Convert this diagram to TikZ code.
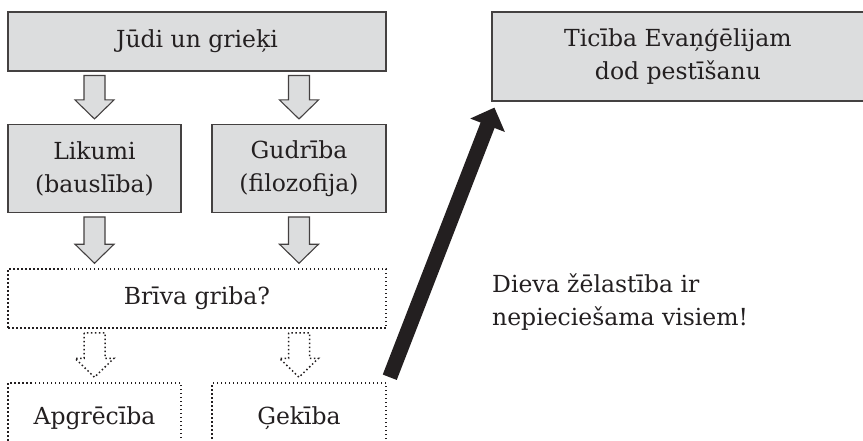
\documentclass[tikz,border=0pt]{standalone}
\usepackage{fontspec}
\setmainfont{DejaVu Serif}
\usetikzlibrary{arrows.meta,calc}

\definecolor{boxgray}{HTML}{DCDDDE}
\definecolor{ink}{HTML}{231F20}

% hollow block arrow from the box #2 down to the box #3, in the column of #4
\newcommand{\fatarrow}[4][]{%
  \draw[#1] ($(#2.south -| #4)+(-10.5,-4)$) -- ($(#3.north -| #4)+(-10.5,24)$)
    -- ($(#3.north -| #4)+(-19.5,24)$) -- ($(#3.north -| #4)+(0,5)$) -- ($(#3.north -| #4)+(19.5,24)$)
    -- ($(#3.north -| #4)+(10.5,24)$) -- ($(#2.south -| #4)+(10.5,-4)$) -- cycle;}

\begin{document}
\begin{tikzpicture}[x=1pt, y=1pt,
  every node/.style={text=ink, font=\fontsize{23.5}{33}\selectfont, align=center, inner sep=0pt},
  greybox/.style={draw=ink!85, line width=1.1pt, fill=boxgray},
  dotbox/.style={draw=ink, line width=1.5pt, dash pattern=on 1.5pt off 2.5pt},
  greyarrow/.style={draw=ink!85, line width=1.1pt, fill=boxgray, line join=miter},
  dotarrow/.style={draw=ink, line width=1.5pt, dash pattern=on 1.5pt off 2.5pt}]
\useasboundingbox (0,0) rectangle (863,440);

\node[greybox, minimum width=378pt, minimum height=59pt] (jews) at (197,398.5) {Jūdi un grieķi};
\node[greybox, minimum width=173pt, minimum height=88pt] (law) at (94.5,271.5) {Likumi\\(bauslība)};
\node[greybox, minimum width=174pt, minimum height=88pt] (wisdom) at (299,271.5) {Gudrība\\(filozofija)};
\node[dotbox, minimum width=378pt, minimum height=59pt] (will) at (197,141.5) {Brīva griba?};
\node[dotbox, minimum width=173pt, minimum height=70pt] (fall) at (94.5,22) {Apgrēcība};
\node[dotbox, minimum width=174pt, minimum height=70pt] (folly) at (299,22) {Ģekība};

\node[greybox, minimum width=372pt, minimum height=89pt] (faith) at (678,383.5) {Ticība Evaņģēlijam\\dod pestīšanu};
\node[align=left, anchor=north west] (grace) at (492,166.5) {Dieva žēlastība ir\\nepieciešama visiem!};

\fatarrow[greyarrow]{jews}{law}{law}
\fatarrow[greyarrow]{jews}{wisdom}{wisdom}
\fatarrow[greyarrow]{law}{will}{law}
\fatarrow[greyarrow]{wisdom}{will}{wisdom}
\fatarrow[dotarrow]{will}{fall}{fall}
\fatarrow[dotarrow]{will}{folly}{folly}

\draw[ink, line width=15pt, -{Triangle[length=19pt, width=36pt]}]
  ($(folly.north east)+(3,5)$) -- ($(faith.south west)+(3,-6)$);
\end{tikzpicture}
\end{document}
